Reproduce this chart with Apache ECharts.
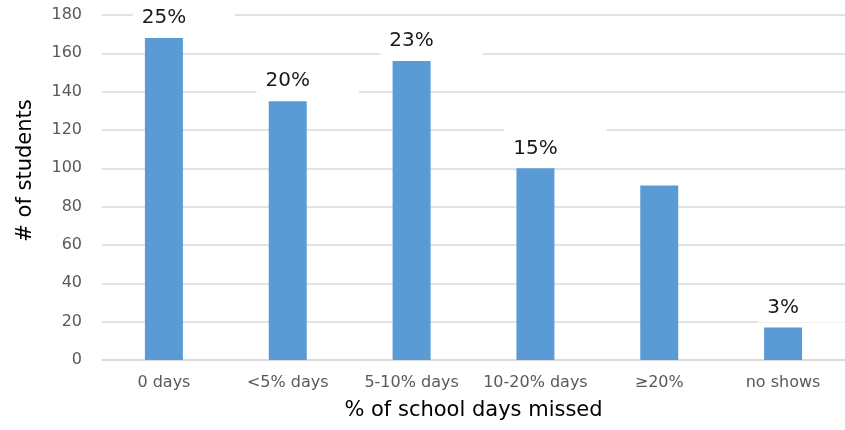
<!DOCTYPE html>
<html>
<head>
<meta charset="utf-8">
<script src="https://cdn.jsdelivr.net/npm/echarts@6/dist/echarts.min.js"></script>
<style>
  html, body { margin: 0; padding: 0; background: #fff; }
  #chart { width: 845px; height: 430px; }
</style>
</head>
<body>
<div id="chart"></div>
<script>
const categories = ['0 days', '<5% days', '5-10% days', '10-20% days', '≥20%', 'no shows'];
const students = [168, 135, 156, 100, 91, 17];
// share of students shown above each bar ('' = no label in the original)
const shareLabels = ['25%', '20%', '23%', '15%', '', '3%'];
const yTicks = { min: 0, max: 180, interval: 20 };

const font = 'DejaVu Sans';

const myChart = echarts.init(document.getElementById('chart'));
const option = {
  backgroundColor: '#fff',
  animation: false,
  grid: { left: 102, right: -1, top: 15, bottom: 70 },
  xAxis: {
    type: 'category',
    data: categories,
    name: '% of school days missed',
    nameLocation: 'middle',
    nameGap: 40,
    nameTextStyle: { fontFamily: font, fontSize: 21, color: '#000' },
    axisLine: { lineStyle: { color: '#d9d9d9', width: 1.5 } },
    axisTick: { show: false },
    axisLabel: { interval: 0, fontFamily: font, fontSize: 16, color: '#595959', margin: 15 },
  },
  yAxis: {
    type: 'value',
    min: yTicks.min,
    max: yTicks.max,
    interval: yTicks.interval,
    name: '# of students',
    nameLocation: 'middle',
    nameGap: 66,
    // title sits a little above the plot's middle in the original
    nameTextStyle: { fontFamily: font, fontSize: 21, color: '#000', padding: [0, 0, 0, 34] },
    axisLine: { show: false },
    axisTick: { show: false },
    axisLabel: { fontFamily: font, fontSize: 16, color: '#595959', margin: 20 },
    splitLine: { lineStyle: { color: '#d9d9d9', width: 1.5 } },
  },
  series: [
    {
      type: 'bar',
      barWidth: 38,
      itemStyle: { color: '#5b9bd5' },
      label: {
        show: true,
        position: 'top',
        distance: 5,
        offset: [20, 0],
        fontFamily: font,
        fontSize: 20,
        color: '#1a1a1a',
        backgroundColor: '#fff',
        padding: [11, 49, 5, 9],
        formatter: (p) => shareLabels[p.dataIndex],
      },
      data: students.map((v, i) => (shareLabels[i] ? v : { value: v, label: { show: false } })),
    },
  ],
};
myChart.setOption(option, true);
</script>
</body>
</html>
